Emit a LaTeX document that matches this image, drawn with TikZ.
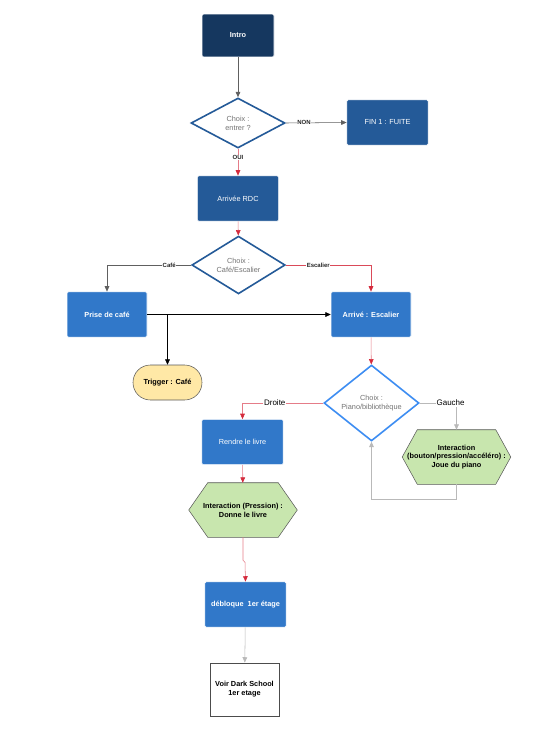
\documentclass[tikz,border=0pt]{standalone}
\usepackage{fontspec}
\setmainfont{Liberation Sans}
\usepackage{xcolor}
\usetikzlibrary{shapes,arrows.meta,positioning,calc}

\definecolor{navy}{HTML}{15375F}
\definecolor{midblue}{HTML}{245A98}
\definecolor{lightblue}{HTML}{3178C9}
\definecolor{skyblue}{HTML}{3D8DF2}
\definecolor{hexgreen}{HTML}{C8E6AE}
\definecolor{trigyellow}{HTML}{FFE8A6}
\definecolor{lnred}{HTML}{E57C88}
\definecolor{tipred}{HTML}{D42A3C}

\begin{document}
\begin{tikzpicture}[
    x=0.75pt, y=-0.75pt,
    font=\fontsize{5.5}{6.6}\selectfont,
    box/.style={draw=white, rectangle, rounded corners=1pt, text=white, align=center, minimum width=61pt, minimum height=34pt},
    choice/.style={draw=midblue, diamond, very thick, fill=white, text=gray!90!black, align=center, inner sep=0pt},
    hexa/.style={rectangle, inner sep=0pt, align=center, font=\fontsize{5.5}{6.6}\selectfont\bfseries, minimum width=81pt, minimum height=40.5pt},
    hexline/.style={draw=gray!70!black, fill=hexgreen},
    lab/.style={fill=white, inner sep=0.5pt, text=gray!30!black, font=\fontsize{4.5}{5}\selectfont\bfseries},
    grayarrow/.style={draw=gray!75!black, -{Triangle[width=3.5pt,length=4pt]}},
    redarrow/.style={draw=lnred, -{Triangle[width=3.5pt,length=4pt,color=tipred]}},
    palearrow/.style={draw=gray!55, -{Triangle[width=3.5pt,length=4pt]}}
]
    \useasboundingbox (0,0) rectangle (537,744);

    % top of the flow
    \node [box, fill=navy, minimum width=54pt, minimum height=32pt, font=\fontsize{5.5}{6.6}\selectfont\bfseries] (intro) at (238,35.5) {Intro};
    \node [choice, minimum width=70.5pt, minimum height=37.5pt] (entrer) at (238,123) {Choix :\\ entrer ?};
    \node [box, fill=midblue] (fuite) at (387.5,122.5) {FIN 1 : FUITE};
    \node [box, fill=midblue] (rdc) at (238,198.5) {Arrivée RDC};
    \node [choice, minimum width=70pt, minimum height=37.5pt] (cafesc) at (238.5,265) {Choix :\\ Café/Escalier};

    % second level
    \node [box, fill=lightblue, minimum width=60pt, font=\fontsize{5.5}{6.6}\selectfont\bfseries] (prise) at (107,314.5) {Prise de café};
    \node [box, fill=lightblue, minimum width=60pt, font=\fontsize{5.5}{6.6}\selectfont\bfseries] (escalier) at (371,314.5) {Arrivé : Escalier};
    \node [draw=gray!70!black, rounded corners=13pt, fill=trigyellow, minimum width=51.75pt, minimum height=26.25pt, font=\fontsize{5.5}{6.6}\selectfont\bfseries] (trigger) at (167.5,382.5) {Trigger : Café};
    \node [choice, draw=skyblue, minimum width=71.25pt, minimum height=54pt] (piano) at (371.5,403) {Choix :\\ Piano/bibliothèque};

    % bottom branches
    \node [box, fill=lightblue] (livre) at (242.5,442) {Rendre le livre};
    \node [hexa] (jouer) at (456.5,457) {};
    \fill [hexline] (jouer.west) -- ($(jouer.north west)+(15,0)$) -- ($(jouer.north east)+(-15,0)$) -- (jouer.east)
        -- ($(jouer.south east)+(-15,0)$) -- ($(jouer.south west)+(15,0)$) -- cycle;
    \node [hexa] (jouertxt) at (jouer) {Interaction\\ (bouton/pression/accéléro) :\\ Joue du piano};
    \node [hexa] (donner) at (243,510) {};
    \fill [hexline] (donner.west) -- ($(donner.north west)+(19,0)$) -- ($(donner.north east)+(-19,0)$) -- (donner.east)
        -- ($(donner.south east)+(-19,0)$) -- ($(donner.south west)+(19,0)$) -- cycle;
    \node [hexa] (donnertxt) at (donner) {Interaction (Pression) :\\ Donne le livre};
    \node [box, fill=lightblue, font=\fontsize{5.5}{6.6}\selectfont\bfseries] (debloque) at (245.5,604.5) {débloque\ \ 1er étage};
    \node [draw=gray!60!black, fill=white, align=center, minimum width=51.75pt, minimum height=40pt, font=\fontsize{5.5}{6.6}\selectfont\bfseries] (darkschool) at (244.5,689.5) {Voir Dark School\\ 1er etage};

    % connectors
    \draw [grayarrow] (intro) -- (entrer);
    \draw [grayarrow] (entrer.east) -- node[lab, pos=0.3] {NON} (fuite.west);
    \draw [redarrow] (entrer.south) -- node[lab, pos=0.33] {OUI} (rdc.north);
    \draw [redarrow] (rdc) -- (cafesc);
    \draw [grayarrow] (cafesc.west) -| node[lab, pos=0.13] {Café} (prise.north);
    \draw [redarrow, draw=tipred!85!white] (cafesc.east) -| node[lab, pos=0.19] {Escalier} (escalier.north);
    \draw [-{Triangle[width=3.5pt,length=4pt]}] (prise.east) -- (escalier.west);
    \draw [-{Triangle[width=3.5pt,length=4pt]}] (trigger.north |- prise.east) -- (trigger.north);
    \draw [redarrow] (escalier) -- (piano);
    \draw [redarrow] (piano.west) -| node[lab, pos=0.3, text=black, font=\fontsize{6}{7}\selectfont] {Droite} (livre.north);
    \draw [palearrow] (piano.east) -| node[lab, pos=0.42, text=black, font=\fontsize{6}{7}\selectfont] {Gauche} (jouer.north);
    \draw [palearrow] (jouer.south) -- ++(0,15) -| (piano.south);
    \draw [redarrow] (livre) -- (donner);
    \draw [redarrow] (donner.south) -- ++(0,23) -- ++(2,2) -- (debloque.north);
    \draw [palearrow] (debloque) -- (darkschool);
\end{tikzpicture}
\end{document}
